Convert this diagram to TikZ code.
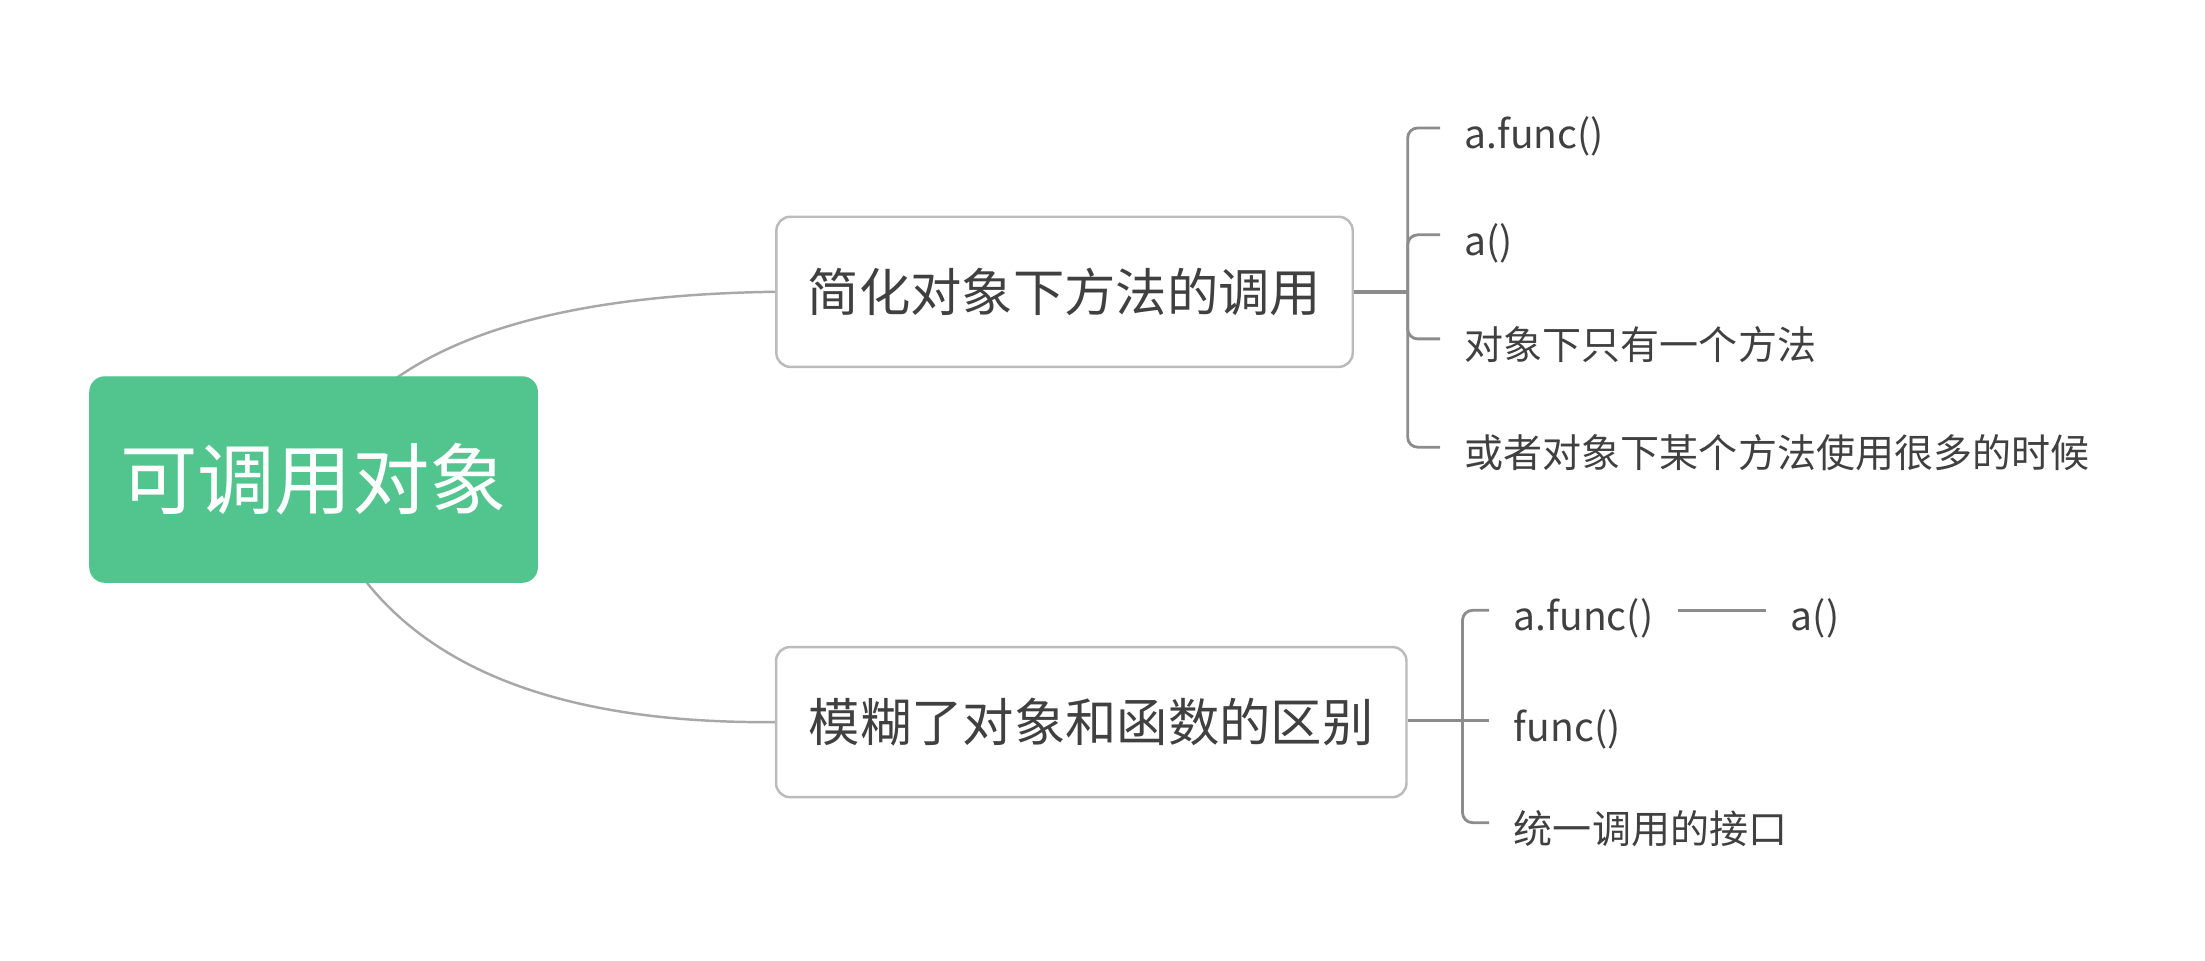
\documentclass[tikz,border=0pt]{standalone}
\usepackage{fontspec}
\setmainfont{Noto Sans CJK SC}
\usetikzlibrary{backgrounds}

\definecolor{rootgreen}{HTML}{52C48D}
\definecolor{boxgray}{HTML}{BBBBBB}
\definecolor{curvegray}{HTML}{A8A8A8}
\definecolor{linegray}{HTML}{8C8C8C}
\definecolor{textgray}{HTML}{404040}

\tikzset{
  rootbox/.style={shape=rectangle,rounded corners=0.15cm,fill=rootgreen,draw=rootgreen,
    minimum width=4.47cm,minimum height=2.05cm,text=white,font=\fontsize{22pt}{26pt}\selectfont},
  topicbox/.style={shape=rectangle,rounded corners=0.14cm,fill=white,draw=boxgray,line width=0.7pt,
    minimum height=1.5cm,text=textgray,font=\fontsize{14.6pt}{17pt}\selectfont},
  leaf/.style={anchor=west,inner xsep=0.24cm,inner ysep=0pt,text height=11.6pt,text depth=0pt,
    text=textgray,font=\fontsize{11.1pt}{13pt}\selectfont},
  curve/.style={draw=curvegray,line width=0.7pt},
  stem/.style={draw=linegray,line width=1pt},
  twig/.style={draw=linegray,line width=0.8pt,rounded corners=0.1cm}
}

\begin{document}
\begin{tikzpicture}[x=0.01406cm,y=-0.01406cm]
      \useasboundingbox (0,0) rectangle (1568,683);

      \node[rootbox] (R) at (223,341) {可调用对象};
      \node[topicbox,minimum width=5.76cm] (A) at (757,207.5) {简化对象下方法的调用};
      \node[topicbox,minimum width=6.30cm] (B) at (776,513.5) {模糊了对象和函数的区别};

      \node[leaf] (A1) at (1024,91) {a.func()};
      \node[leaf] (A2) at (1024,167) {a()};
      \node[leaf] (A3) at (1024,241) {对象下只有一个方法};
      \node[leaf] (A4) at (1024,318) {或者对象下某个方法使用很多的时候};

      \node[leaf] (B1) at (1059,434) {a.func()};
      \node[leaf] (B4) at (1256,434) {a()};
      \node[leaf] (B2) at (1059,512.5) {func()};
      \node[leaf] (B3) at (1059,585) {统一调用的接口};

      \coordinate (jA) at (1001,207.5);
      \coordinate (jB) at (1040,512.5);

      \begin{pgfonlayer}{background}
        \draw[curve] (R.center) .. controls (258,254) and (367,210) .. (A.west);
        \draw[curve] (R.center) .. controls (258,457) and (367,515) .. (B.west);
      \end{pgfonlayer}

      \draw[stem] (A) -- (jA);
      \draw[twig] (jA) |- (A1.west); \draw[twig] (jA) |- (A2.west);
      \draw[twig] (jA) |- (A3.west); \draw[twig] (jA) |- (A4.west);

      \draw[stem] (B.east |- jB) -- (jB);
      \draw[twig] (jB) |- (B1.west); \draw[twig] (jB) -- (B2.west);
      \draw[twig] (jB) |- (B3.west);
      \draw[twig] (B1) -- (B4);
    \end{tikzpicture}
\end{document}
